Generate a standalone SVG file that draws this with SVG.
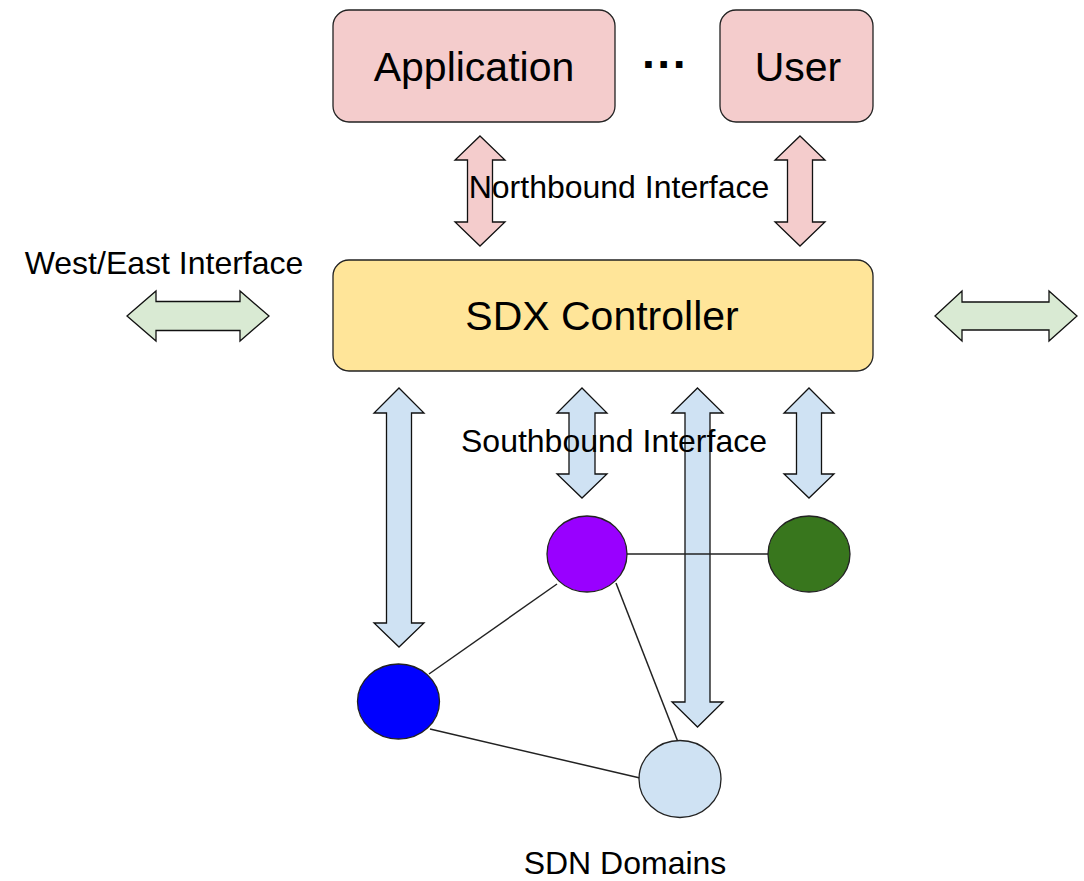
<svg xmlns="http://www.w3.org/2000/svg" width="1084" height="881" viewBox="0 0 1084 881">
<style>
  .t { font-family: "Liberation Sans", Arial, sans-serif; fill: #000; }
  .big { font-size: 41px; }
  .lbl { font-size: 32px; }
  .box { stroke: #222; stroke-width: 1.3; }
  .pink { fill: #f4cccc; }
  .yel { fill: #ffe599; }
  .arrN { fill: #f4cccc; stroke: #111; stroke-width: 1.3; stroke-linejoin: miter; }
  .arrS { fill: #cfe2f3; stroke: #111; stroke-width: 1.3; }
  .arrW { fill: #d9ead3; stroke: #111; stroke-width: 1.3; }
  .edge { stroke: #222; stroke-width: 1.5; fill: none; }
  .node { stroke: #222; stroke-width: 1.3; }
</style>
<rect width="1084" height="881" fill="#ffffff"/>

<g id="connectors">
  <!-- Northbound arrows -->
  <polygon class="arrN" points="480,136 505,160 492.5,160 492.5,222 505,222 480,246 455,222 467.5,222 467.5,160 455,160"/>
  <polygon class="arrN" points="800,136 825,160 812.5,160 812.5,222 825,222 800,246 775,222 787.5,222 787.5,160 775,160"/>
  <!-- West/East arrows -->
  <polygon class="arrW" points="127,316 156,291 156,301.5 240,301.5 240,291 269,316 240,341 240,330.5 156,330.5 156,341"/>
  <polygon class="arrW" points="935,316 962,291 962,302 1049,302 1049,291 1077,316 1049,341 1049,330 962,330 962,341"/>
  <!-- Southbound arrows -->
  <polygon class="arrS" points="399,388 424,413 411.5,413 411.5,623 424,623 399,647 374,623 386.5,623 386.5,413 374,413"/>
  <polygon class="arrS" points="582,388 607,413 595,413 595,474 607,474 582,498 557,474 569,474 569,413 557,413"/>
  <polygon class="arrS" points="697.5,388 723,413 710,413 710,702 723,702 697.5,727 672,702 685,702 685,413 672,413"/>
  <polygon class="arrS" points="809,388 834,413 821.5,413 821.5,474 834,474 809,498 784,474 796.5,474 796.5,413 784,413"/>
  <!-- network links -->
  <line class="edge" x1="627" y1="554" x2="768" y2="554"/>
  <line class="edge" x1="557" y1="584" x2="429" y2="674"/>
  <line class="edge" x1="616" y1="583" x2="678" y2="742"/>
  <line class="edge" x1="430" y1="729" x2="640" y2="778"/>
</g>

<g id="application">
  <rect class="box pink" x="333" y="10" width="282" height="112" rx="16"/>
  <text class="t big" x="474" y="81" text-anchor="middle">Application</text>
</g>
<g id="ellipsis">
  <text class="t" x="665" y="80" text-anchor="middle" font-size="46" font-weight="bold">···</text>
</g>
<g id="user">
  <rect class="box pink" x="720" y="10" width="153" height="112" rx="16"/>
  <text class="t big" x="798" y="81" text-anchor="middle">User</text>
</g>
<g id="sdx-controller">
  <rect class="box yel" x="333" y="260" width="540" height="111" rx="16"/>
  <text class="t big" x="602" y="330" text-anchor="middle">SDX Controller</text>
</g>

<g id="northbound-label">
  <text class="t lbl" x="619" y="198" text-anchor="middle">Northbound Interface</text>
</g>
<g id="westeast-label">
  <text class="t lbl" x="164" y="274" text-anchor="middle">West/East Interface</text>
</g>
<g id="southbound-label">
  <text class="t lbl" x="614" y="452" text-anchor="middle">Southbound Interface</text>
</g>

<g id="node-purple"><ellipse class="node" cx="587" cy="554" rx="40" ry="38" fill="#9900ff"/></g>
<g id="node-green"><ellipse class="node" cx="809" cy="554" rx="41" ry="38" fill="#38761d"/></g>
<g id="node-blue"><ellipse class="node" cx="398.5" cy="701.5" rx="41" ry="37.5" fill="#0000ff"/></g>
<g id="node-lightblue"><ellipse class="node" cx="680" cy="779" rx="41" ry="38.5" fill="#cfe2f3"/></g>

<g id="sdn-label">
  <text class="t lbl" x="625" y="874" text-anchor="middle">SDN Domains</text>
</g>
</svg>
